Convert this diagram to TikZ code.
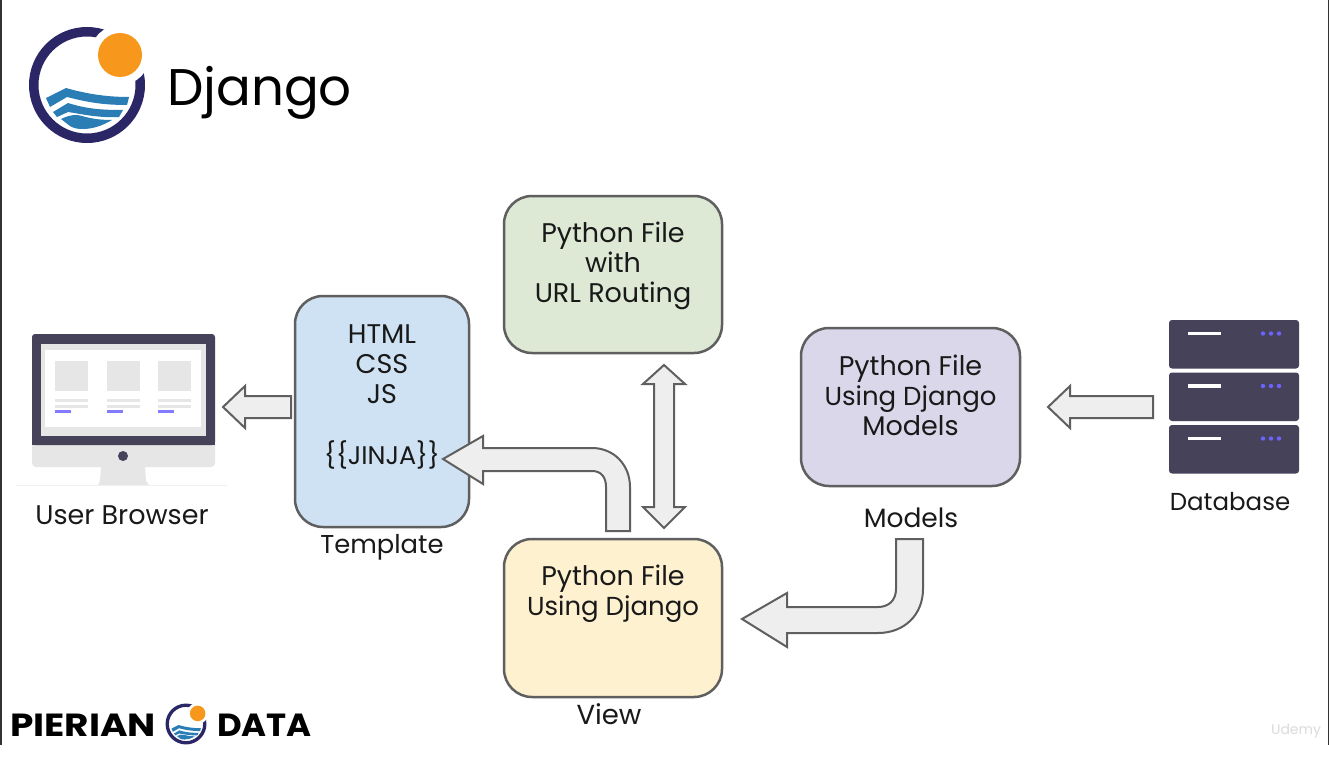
\documentclass[tikz,border=0pt]{standalone}
\usepackage{fontspec}
\setmainfont{Poppins}
\definecolor{urlgreen}{HTML}{DDE8D5}
\definecolor{tmplblue}{HTML}{CFE2F3}
\definecolor{modelviolet}{HTML}{D9D7E9}
\definecolor{viewyellow}{HTML}{FDF1CF}
\definecolor{edgegray}{HTML}{5F5F5F}
\definecolor{arrowgray}{HTML}{EEEEEE}
\definecolor{slatedark}{HTML}{45425A}
\definecolor{dotviolet}{HTML}{6C63FF}
\definecolor{screengray}{HTML}{E6E6E6}
\definecolor{ringnavy}{HTML}{2B2766}
\definecolor{sunorange}{HTML}{F7981D}
\definecolor{waveblue}{HTML}{2A7DB5}
\newcommand{\usingdjango}{{\fontsize{26}{30}\selectfont Using Django}}
\tikzset{
  flowbox/.style={draw=edgegray,line width=2.5pt,rounded corners=28pt,inner sep=0pt},
  boxtext/.style={align=center,inner sep=0pt,text=black!90,font=\fontsize{27}{30}\selectfont},
  caption/.style={inner sep=0pt,text=black!90,font=\fontsize{#1}{30}\selectfont},
  blockarrow/.style={draw=edgegray,fill=arrowgray,line width=2pt,line join=miter},
  logoword/.style={inner sep=0pt,text=black,font=\fontsize{32}{32}\selectfont\bfseries},
  pierianlogo/.pic={
    \fill[ringnavy,even odd rule] (0,0) circle (58) (0,0) circle (48.5);
    \fill[white] (33,-30) circle (30);
    \fill[sunorange] (33,-30) circle (22);
    \fill[waveblue] (-41,13) -- (-21,3) .. controls (0,9) and (20,12) .. (42,12)
      -- (40,20) .. controls (15,20) and (0,17) .. (-20,12) -- (-37,22) -- cycle;
    \fill[waveblue] (-34,27) -- (-19,18) .. controls (0,24) and (15,25) .. (36,25)
      -- (32,32) .. controls (10,33) and (-5,29) .. (-19,27) -- (-30,32) -- cycle;
    \fill[waveblue] (-26,34) .. controls (-18,30) and (-10,29) .. (-5,31)
      .. controls (5,34) and (15,35) .. (25,35) .. controls (15,41) and (5,44) .. (-4,44)
      .. controls (-10,44) and (-14,43) .. (-17,41) -- cycle;
  }
}
\begin{document}
\begin{tikzpicture}[x=1pt,y=-1pt]
\useasboundingbox (0,0) rectangle (1329,760);
\fill[white] (0,0) rectangle (1329,760);
\fill[black!80] (0,0) rectangle (1.5,745);
\fill[black!80] (1327.5,0) rectangle (1329,745);

% logo and title
\pic at (87,85) {pierianlogo};
\node[anchor=west,inner sep=0pt,text=black,font=\fontsize{51.5}{50}\selectfont] (title) at (167,93) {Django};

% boxes
\node[flowbox,fill=urlgreen,minimum width=218pt,minimum height=157pt] (urls) at (613,274.5) {};
\node[flowbox,fill=tmplblue,minimum width=174pt,minimum height=231pt] (tmpl) at (382,411.5) {};
\node[flowbox,fill=modelviolet,minimum width=219pt,minimum height=158pt] (models) at (910.5,407) {};
\node[flowbox,fill=viewyellow,minimum width=218pt,minimum height=158pt] (view) at (613,618) {};

\node[boxtext] (urlstext) at (613,266) {Python File\\with\\URL Routing};
\node[boxtext] (tmpltext) at (382,364) {HTML\\CSS\\JS};
\node[boxtext,font=\fontsize{25.5}{30}\selectfont] (jinja) at (382,455) {\{\{JINJA\}\}};
\node[boxtext] (modelstext) at (910.5,395.5) {Python File\\\usingdjango\\Models};
\node[boxtext] (viewtext) at (613,594) {Python File\\\usingdjango};

\node[caption=27] (browserlabel) at (122,515) {User Browser};
\node[caption=25.8] (tmpllabel) at (382,547) {Template};
\node[caption=26.5] (modelslabel) at (911,518) {Models};
\node[caption=27.5] (viewlabel) at (609,714) {View};
\node[caption=24.5] (dblabel) at (1230,502) {Database};

% monitor
\fill[screengray,rounded corners=4pt] (32,440) rectangle (215,467);
\fill[screengray] (101,467) -- (145,467) -- (146,481) -- (149,485) -- (98,485) -- (100,481) -- cycle;
\draw[black!6,line width=1pt] (16,485.5) -- (227,485.5);
\fill[slatedark,rounded corners=3pt] (32,334) rectangle (215,445);
\fill[slatedark] (32,440) rectangle (215,445);
\fill[screengray] (41,344) rectangle (206,436);
\fill[white] (45,350) rectangle (201,427);
\fill[slatedark] (123,456) circle (5);
\foreach \cardx in {55,107,158} {
  \fill[screengray] (\cardx,361) rectangle ++(33,30);
  \fill[screengray] (\cardx,399) rectangle ++(33,2.5);
  \fill[screengray] (\cardx,405) rectangle ++(33,2.5);
  \fill[dotviolet!85] (\cardx,410) rectangle ++(16,2.5);
}

% database
\foreach \racky in {320,372.5,425} {
  \fill[slatedark,rounded corners=3pt] (1169,\racky) rectangle ++(130,48.5);
  \fill[white] (1188,\racky+11.5) rectangle ++(33,3.5);
  \foreach \dotx in {1263,1271,1279}
    \fill[dotviolet] (\dotx,\racky+13.5) circle (2.2);
}

% arrows
\coordinate (browsertip) at (223,407);
\coordinate (modelstip) at (1048,407);
\coordinate (tmpltip) at (443,459);
\coordinate (viewtip) at (742,619);
\coordinate (urlstip) at (664,365);

\draw[blockarrow] (browsertip) -- ++(22,-21) -- ++(0,10) -- ++(46,0) -- ++(0,22) -- ++(-46,0) -- ++(0,10) -- cycle;
\draw[blockarrow] (modelstip) -- ++(22,-21) -- ++(0,10) -- ++(83,0) -- ++(0,22) -- ++(-83,0) -- ++(0,10) -- cycle;
\draw[blockarrow] (urlstip) -- ++(21,19) -- ++(-11,0) -- ++(0,123) -- ++(11,0) -- ++(-21,21) -- ++(-21,-21) -- ++(11,0) -- ++(0,-123) -- ++(-11,0) -- cycle;
\draw[blockarrow] (tmpltip) -- (483,436) -- (483,448) -- (592,448)
  .. controls (614,448) and (630,465) .. (630,487) -- (630,531) -- (606,531) -- (606,487)
  .. controls (606,477) and (601,471) .. (592,471) -- (483,471) -- (483,484) -- cycle;
\draw[blockarrow] (viewtip) -- (787,593) -- (787,607) -- (878,607)
  .. controls (889,607) and (896,600) .. (896,589) -- (896,539) -- (923,539) -- (923,589)
  .. controls (923,615) and (904,633) .. (878,633) -- (787,633) -- (787,647) -- cycle;

% footer
\node[logoword,anchor=west] (pierian) at (10,725) {\scalebox{1.17}[1]{PIERIAN}};
\pic[scale=0.353] at (186,724) {pierianlogo};
\node[logoword,anchor=west] (data) at (217,725) {\scalebox{1.06}[1]{DATA}};
\node[inner sep=0pt,text=black!14,font=\fontsize{14}{14}\selectfont] (udemy) at (1296,731) {Udemy};
\end{tikzpicture}
\end{document}
